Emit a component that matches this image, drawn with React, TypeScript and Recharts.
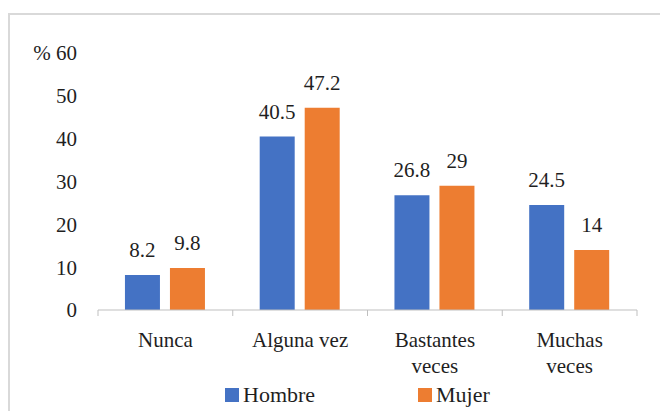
import { BarChart, Bar, XAxis, YAxis, LabelList, Legend } from 'recharts';

// categorias e valores
const categorias = ['Nunca', 'Alguna vez', 'Bastantes\nveces', 'Muchas\nveces'];
const hombre = [8.2, 40.5, 26.8, 24.5];
const mujer = [9.8, 47.2, 29, 14];
const yTicks = [0, 10, 20, 30, 40, 50, 60];

const data = categorias.map((name, i) => ({ name, hombre: hombre[i], mujer: mujer[i] }));

const FONT = "'Liberation Serif', 'Times New Roman', 'DejaVu Serif', serif";
const TEXT = '#1f1f1f';
const FS = 21;

// tick do eixo X: rótulo em várias linhas + marcas nos limites das categorias
function CategoryTick(props: any) {
    const { x, y, payload, index, width, visibleTicksCount } = props;
    const bw = width / visibleTicksCount;
    const lines = String(payload.value).split('\n');
    return (
        <g>
            <line x1={x - bw / 2} x2={x - bw / 2} y1={y} y2={y + 6} stroke="#bfbfbf" />
            {index === visibleTicksCount - 1 && (
                <line x1={x + bw / 2} x2={x + bw / 2} y1={y} y2={y + 6} stroke="#bfbfbf" />
            )}
            <text x={x} y={y + 37} textAnchor="middle" fill={TEXT} fontSize={FS} style={{ fontFamily: FONT }}>
                {lines.map((l, i) => (
                    <tspan key={i} x={x} dy={i === 0 ? 0 : 26}>{l}</tspan>
                ))}
            </text>
        </g>
    );
}

function LegendContent(props: any) {
    const { payload } = props;
    return (
        <div style={{ display: 'flex', paddingLeft: 225, fontFamily: FONT, fontSize: 22, color: TEXT, lineHeight: '28px' }}>
            {(payload || []).map((p: any) => (
                <div key={p.value} style={{ display: 'flex', alignItems: 'center', width: 193 }}>
                    <span style={{ width: 14, height: 14, background: p.color, marginRight: 4, display: 'inline-block' }} />
                    <span>{p.value}</span>
                </div>
            ))}
        </div>
    );
}

export default function App() {
    return (
        <div style={{ position: 'absolute', left: 0, top: 0, width: 660, height: 411, overflow: 'hidden', background: '#fff' }}>
            <div style={{ position: 'absolute', left: 8, top: 13, width: 700, height: 450, border: '2px solid #d9d9d9', boxSizing: 'border-box' }} />
            <div style={{ position: 'absolute', left: 0, top: 0 }}>
                <BarChart width={660} height={411} data={data} margin={{ top: 53, right: 23, bottom: 41, left: 0 }}
                    barCategoryGap="20%" barGap={10}>
                    <XAxis dataKey="name" axisLine={{ stroke: '#bfbfbf' }} tickLine={false} tickSize={0} tickMargin={0}
                        tick={<CategoryTick />} interval={0} height={60} />
                    <YAxis domain={[0, 60]} ticks={yTicks} width={98} axisLine={false} tickLine={false} tickMargin={15}
                        tick={{ fontSize: FS, fill: TEXT, style: { fontFamily: FONT } }}
                        tickFormatter={(v: number) => (v === 60 ? '% 60' : String(v))} />
                    <Legend content={<LegendContent />} layout="horizontal" verticalAlign="middle" align="center"
                        wrapperStyle={{ left: 0, top: 381, width: 660 }} />
                    <Bar dataKey="hombre" name="Hombre" fill="#4472C4" isAnimationActive={false}>
                        <LabelList dataKey="hombre" position="top" offset={18} fill={TEXT} fontSize={FS} style={{ fontFamily: FONT }} />
                    </Bar>
                    <Bar dataKey="mujer" name="Mujer" fill="#ED7D31" isAnimationActive={false}>
                        <LabelList dataKey="mujer" position="top" offset={18} fill={TEXT} fontSize={FS} style={{ fontFamily: FONT }} />
                    </Bar>
                </BarChart>
            </div>
        </div>
    );
}
